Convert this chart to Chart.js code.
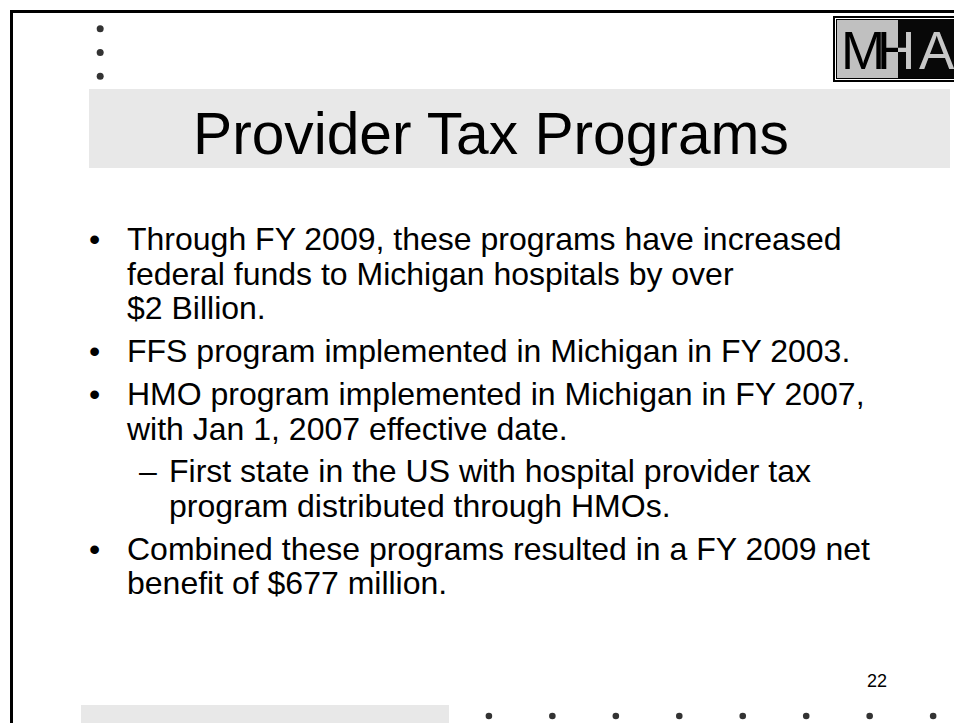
<!DOCTYPE html>
<html>
<head>
<meta charset="utf-8">
<script src="https://cdn.jsdelivr.net/npm/chart.js@4.4.1/dist/chart.umd.min.js"></script>
<style>
    html, body { margin: 0; padding: 0; background: #fff; }
    body { width: 954px; height: 723px; position: relative; overflow: hidden; font-family: Arial, "Liberation Sans", sans-serif; }
    .slide-border { position: absolute; left: 10px; top: 10px; width: 960px; height: 720px; border: 3px solid #000; box-sizing: border-box; }
    .title-band { position: absolute; left: 89px; top: 89px; width: 861px; height: 79px; background: #e8e8e8; }
    .foot-band { position: absolute; left: 81px; top: 705px; width: 368px; height: 30px; background: #e8e8e8; }
    .title { position: absolute; left: 193px; top: 105px; font-size: 58.7px; line-height: 58.7px; white-space: nowrap; color: #000; }
    .body-list { position: absolute; left: 0; top: 222px; margin: 0; padding: 0; list-style: none; }
    .body-list li { position: relative; font-size: 32px; line-height: 34.7px; white-space: nowrap; color: #000; margin-top: 8px; }
    .body-list li:first-child { margin-top: 0; }
    .body-list li.lvl1 { padding-left: 127px; }
    .body-list li.lvl2 { padding-left: 169px; }
    .body-list li .mark { position: absolute; top: 0; }
    .body-list li.lvl1 .mark { left: 89px; }
    .body-list li.lvl2 .mark { left: 139px; }
    .page-num { position: absolute; left: 867px; top: 671px; font-size: 18px; line-height: 20px; color: #000; }
    .logo { position: absolute; left: 833px; top: 16px; width: 130px; height: 66px; border: 2px solid #000; box-sizing: border-box; background: #fff; }
    .logo-inner { position: absolute; left: 1px; top: 1px; right: 1px; bottom: 1px; border: 1px solid #000; overflow: hidden; }
    .logo-part { position: absolute; top: 0; bottom: 0; overflow: hidden; }
    .logo-part span { position: absolute; top: 4px; font-family: "Liberation Sans Narrow", "Arial Narrow", Arial, sans-serif; font-size: 53px; line-height: 53px; }
    #dots { position: absolute; left: 0; top: 0; }
</style>
</head>
<body>
<div class="slide-border"></div>
<div class="title-band"></div>
<div class="foot-band"></div>
<div class="logo"><div class="logo-inner" id="logoInner"></div></div>
<div class="title" id="title"></div>
<ul class="body-list" id="bodyList"></ul>
<div class="page-num" id="pageNum"></div>
<canvas id="dots" width="954" height="723"></canvas>
<script>
// Slide content
const titleText = 'Provider Tax Programs';
const bulletLevels = [1, 1, 1, 2, 1];
const bulletLines = [
    ['Through FY 2009, these programs have increased', 'federal funds to Michigan hospitals by over', '$2 Billion.'],
    ['FFS program implemented in Michigan in FY 2003.'],
    ['HMO program implemented in Michigan in FY 2007,', 'with Jan 1, 2007 effective date.'],
    ['First state in the US with hospital provider tax', 'program distributed through HMOs.'],
    ['Combined these programs resulted in a FY 2009 net', 'benefit of $677 million.']
];
const pageNumber = '22';
const logoLetters = ['M', 'H', 'A'];

// Decorative dot rows (slide pixel space)
const topDotX = [97, 97, 97];
const topDotY = [25, 49, 73];
const bottomDotX = [489, 553, 617, 681, 745, 809, 873, 937];
const bottomDotY = [720, 720, 720, 720, 720, 720, 720, 720];

function buildText() {
    document.getElementById('title').textContent = titleText;
    document.getElementById('pageNum').textContent = pageNumber;

    const list = document.getElementById('bodyList');
    bulletLines.forEach((lines, i) => {
        const li = document.createElement('li');
        li.className = 'lvl' + bulletLevels[i];
        const mark = document.createElement('span');
        mark.className = 'mark';
        mark.textContent = bulletLevels[i] === 1 ? '\u2022' : '\u2013';
        li.appendChild(mark);
        lines.forEach((line, j) => {
            if (j > 0) li.appendChild(document.createElement('br'));
            li.appendChild(document.createTextNode(line));
        });
        list.appendChild(li);
    });
}

function buildLogo() {
    const inner = document.getElementById('logoInner');
    const letterLeft = [4, 40, 82];
    // left half: black letters on grey, right half: grey letters on black
    const parts = [
        { left: 0, width: 61, bg: '#c0c0c0', fg: '#000' },
        { left: 61, width: 80, bg: '#080808', fg: '#c8c8c8' }
    ];
    parts.forEach(p => {
        const part = document.createElement('div');
        part.className = 'logo-part';
        part.style.left = p.left + 'px';
        part.style.width = p.width + 'px';
        part.style.background = p.bg;
        logoLetters.forEach((ch, k) => {
            const s = document.createElement('span');
            s.textContent = ch;
            s.style.left = (letterLeft[k] - p.left) + 'px';
            s.style.color = p.fg;
            part.appendChild(s);
        });
        inner.appendChild(part);
    });
}

function initializeDots() {
    const canvas = document.getElementById('dots');
    if (typeof Chart === 'undefined') {
        console.error('Chart.js library not loaded');
        return;
    }
    const toPoints = (xs, ys) => xs.map((x, i) => ({ x: x, y: ys[i] }));
    new Chart(canvas.getContext('2d'), {
        type: 'scatter',
        data: {
            datasets: [{
                label: 'top',
                data: toPoints(topDotX, topDotY),
                pointRadius: 3.5,
                backgroundColor: '#333',
                borderWidth: 0,
                clip: false
            }, {
                label: 'bottom',
                data: toPoints(bottomDotX, bottomDotY),
                pointRadius: 3.3,
                backgroundColor: '#333',
                borderWidth: 0,
                clip: false
            }]
        },
        options: {
            responsive: false,
            animation: false,
            layout: { padding: 0 },
            events: [],
            plugins: {
                legend: { display: false },
                tooltip: { enabled: false }
            },
            scales: {
                x: { type: 'linear', min: 0, max: 954, display: false },
                y: { type: 'linear', min: 0, max: 723, reverse: true, display: false }
            }
        }
    });
}

buildText();
buildLogo();
initializeDots();
</script>
</body>
</html>
